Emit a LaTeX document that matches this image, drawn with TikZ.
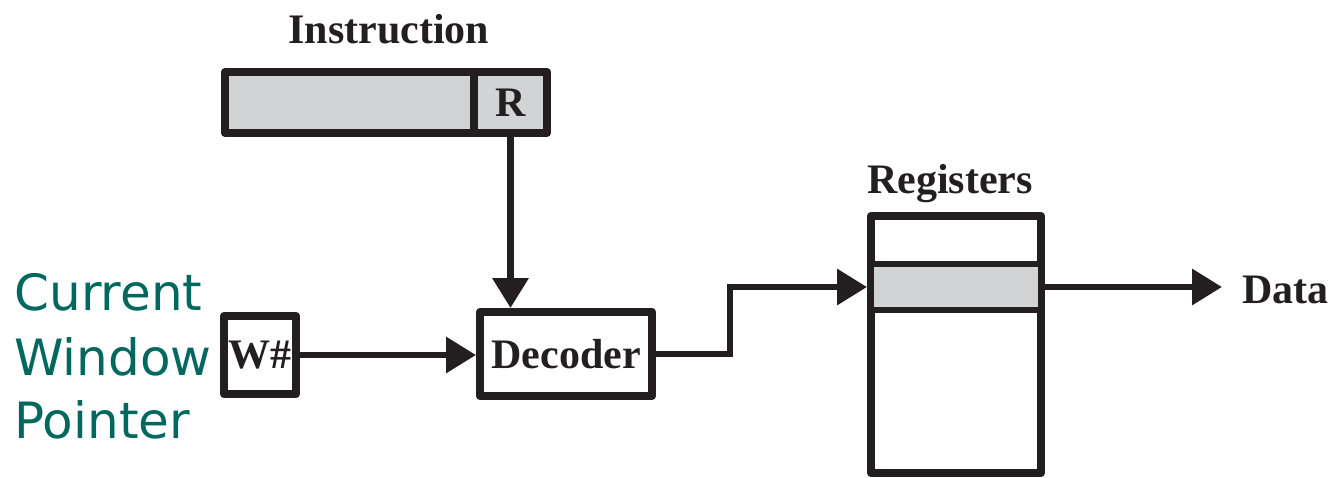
\documentclass[tikz,border=0pt]{standalone}
\usepackage{fontspec}
\setmainfont{Liberation Serif}
\newfontfamily\cwpfont{DejaVu Sans}
\usetikzlibrary{arrows.meta}
\definecolor{ink}{HTML}{231F20}
\definecolor{boxgray}{HTML}{D1D3D4}
\definecolor{teal}{HTML}{00685F}
\tikzset{
  box/.style={draw=ink, line width=8pt, line join=round, rectangle, inner sep=0pt, outer sep=4pt,
    font=\fontsize{42pt}{50pt}\selectfont\bfseries, text=ink},
  lbl/.style={inner sep=0pt, outer sep=0pt, font=\fontsize{42pt}{50pt}\selectfont\bfseries, text=ink},
  cwp/.style={inner sep=0pt, outer sep=0pt, anchor=base west, font=\fontsize{50pt}{63pt}\selectfont\cwpfont, text=teal},
  arr/.style={draw=ink, line width=6.5pt, -{Triangle[length=30pt,width=35pt]}}
}
\begin{document}
\begin{tikzpicture}[x=1pt,y=-1pt]
\useasboundingbox[fill=white] (0,0) rectangle (1332,477);
% Instruction
\node[lbl, anchor=base] (instrlbl) at (389,43) {Instruction};
\node[box, fill=boxgray, minimum width=249pt, minimum height=61pt] (instrA) at (349.5,102.5) {};
\node[box, fill=boxgray, minimum width=73pt, minimum height=61pt] (instrR) at (510.5,102.5) {R};
% W# and decoder
\node[box, minimum width=72pt, minimum height=78pt] (wbox) at (260,355) {W\#};
\node[box, minimum width=172pt, minimum height=84pt] (decoder) at (566,354) {Decoder};
% Current Window Pointer
\node[cwp] (cwp1) at (14.5,310) {Current};
\node[cwp] (cwp2) at (14.5,375) {Window};
\node[cwp] (cwp3) at (14.5,438) {Pointer};
% Registers
\node[lbl, anchor=base] (reglbl) at (950,193) {Registers};
\node[box, minimum width=170pt, minimum height=257pt] (regs) at (956,344.5) {};
\node[box, line width=6pt, outer sep=3pt, fill=boxgray, minimum width=170pt, minimum height=46pt] (regrow) at (956,287) {};
% Data
\node[lbl, anchor=base west, inner xsep=20pt] (data) at (1222,303) {Data};
% connectors
\draw[arr] (instrR.south) -- (instrR.south |- decoder.north);
\draw[arr] (wbox.east) -- (wbox.east -| decoder.west);
\draw[arr] (decoder.east) -- ++(74,0) |- (regs.west |- regrow.west);
\draw[arr] (regs.east |- regrow.east) -- (regrow.east -| data.west);
\end{tikzpicture}
\end{document}
